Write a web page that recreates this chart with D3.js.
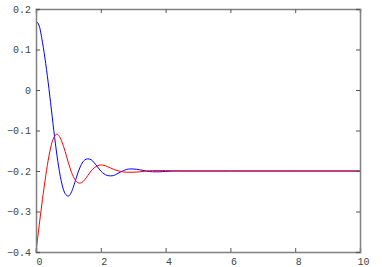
<!DOCTYPE html>
<html><head><meta charset="utf-8">
<script src="https://cdn.jsdelivr.net/npm/d3@7"></script>
<style>html,body{margin:0;padding:0;background:#fff;}svg{display:block;}</style>
</head><body>
<svg id="chart" width="382" height="267"></svg>
<script>
const xTicks = [0, 2, 4, 6, 8, 10];
const yTicks = [0.2, 0.1, 0, -0.1, -0.2, -0.3, -0.4];
const yTickLabels = ["0.2", "0.1", "0", "\u22120.1", "\u22120.2", "\u22120.3", "\u22120.4"];

const blueT = [0, 0.1, 0.2, 0.3, 0.4, 0.5, 0.6, 0.7, 0.8, 0.9, 1.0, 1.1, 1.2, 1.3, 1.4, 1.5, 1.6, 1.7, 1.8, 1.9, 2.0, 2.1, 2.2, 2.3, 2.4, 2.5, 2.6, 2.7, 2.8, 2.9, 3.0, 3.2, 3.4, 3.6, 3.8, 4.0, 4.4, 5, 6, 8, 10];
const blueV = [0.170, 0.158, 0.118, 0.065, 0.003, -0.066, -0.133, -0.190, -0.232, -0.256, -0.262, -0.251, -0.228, -0.203, -0.184, -0.173, -0.170, -0.172, -0.180, -0.190, -0.200, -0.207, -0.211, -0.212, -0.211, -0.207, -0.203, -0.199, -0.196, -0.195, -0.195, -0.197, -0.200, -0.202, -0.202, -0.201, -0.200, -0.200, -0.200, -0.200, -0.200];

const redT = [0, 0.1, 0.2, 0.3, 0.4, 0.5, 0.6, 0.65, 0.7, 0.8, 0.9, 1.0, 1.1, 1.2, 1.3, 1.35, 1.4, 1.5, 1.6, 1.7, 1.8, 1.9, 2.0, 2.1, 2.2, 2.4, 2.6, 2.8, 3.0, 3.2, 3.4, 3.6, 4.0, 4.5, 5, 6, 8, 10];
const redV = [-0.400, -0.333, -0.270, -0.212, -0.163, -0.128, -0.111, -0.109, -0.112, -0.128, -0.152, -0.180, -0.204, -0.221, -0.229, -0.230, -0.229, -0.222, -0.211, -0.200, -0.192, -0.187, -0.185, -0.186, -0.189, -0.196, -0.201, -0.203, -0.203, -0.202, -0.200, -0.199, -0.199, -0.200, -0.200, -0.200, -0.200, -0.200];

const svg = d3.select("#chart");
const L = 36, R = 360, T = 9, B = 252;
const x = d3.scaleLinear().domain([0, 10]).range([L, R]);
const y = d3.scaleLinear().domain([-0.4, 0.2]).range([B, T]);

const line = d3.line().x(d => x(d[0])).y(d => y(d[1])).curve(d3.curveMonotoneX);
const blue = blueT.map((t, i) => [t, blueV[i]]);
const red = redT.map((t, i) => [t, redV[i]]);

svg.append("path").datum(blue).attr("d", line).attr("fill", "none").attr("stroke", "#0000ff").attr("stroke-width", 1);
svg.append("path").datum(red).attr("d", line).attr("fill", "none").attr("stroke", "#ff0000").attr("stroke-width", 1);

const font = "'Liberation Mono', monospace";
const axisColor = "#808080";

const gB = svg.append("g").attr("transform", `translate(0,${B})`)
  .call(d3.axisBottom(x).tickValues(xTicks).tickSize(-4).tickPadding(6).tickFormat(d3.format("d")));
const gT = svg.append("g").attr("transform", `translate(0,${T})`)
  .call(d3.axisTop(x).tickValues(xTicks).tickSize(-4).tickFormat(""));
const gL = svg.append("g").attr("transform", `translate(${L},0)`)
  .call(d3.axisLeft(y).tickValues(yTicks).tickSize(-4).tickPadding(5).tickFormat((d, i) => yTickLabels[i]));
const gR = svg.append("g").attr("transform", `translate(${R},0)`)
  .call(d3.axisRight(y).tickValues(yTicks).tickSize(-4).tickFormat(""));

[gB, gT, gL, gR].forEach(g => {
  g.select(".domain").attr("stroke", axisColor).attr("stroke-width", 1.5);
  g.selectAll(".tick line").attr("stroke", "#555");
  g.selectAll("text").attr("font-family", font).attr("font-size", 10).attr("fill", "#444");
});
gB.selectAll("text").attr("dx", 3);
</script>
</body></html>
